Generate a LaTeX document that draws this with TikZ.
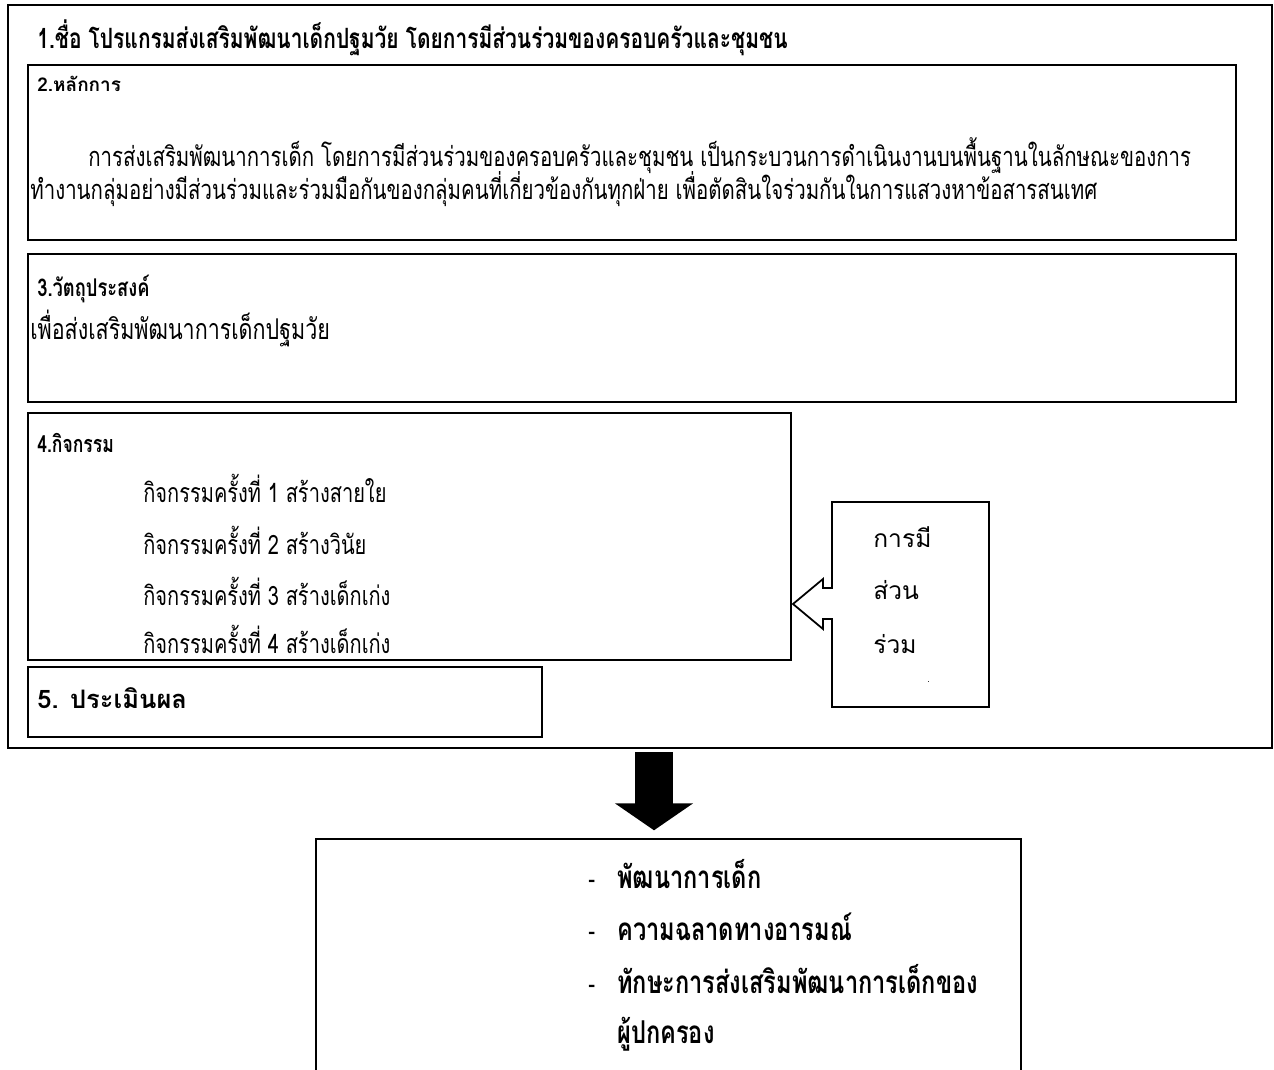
\documentclass[tikz,border=0pt]{standalone}
\usepackage{fontspec}
\setmainfont[Script=Thai]{Loma}
\newfontfamily\narrowthai[Script=Thai, FakeStretch=0.75]{Loma}
\usetikzlibrary{positioning, fit, arrows.meta}

\begin{document}
\begin{tikzpicture}[x=0.02cm, y=-0.02cm,
        box/.style={draw, line width=0.8pt, inner sep=0pt},
        txt/.style={anchor=base west, inner sep=0pt, font=\narrowthai\fontsize{15.5}{18}\selectfont},
        head/.style={txt, font=\narrowthai\fontsize{13.9}{16}\selectfont\bfseries},
        bigarrow/.style={line width=0.76cm, -{Triangle[length=0.54cm 0 0, width=1.54cm 0 0]}}]
    \useasboundingbox (0,0) rectangle (1274,1070);
    \fill[white] (0,0) rectangle (1274,1070);
    % frame with the programme
    \node[box, line width=1.2pt, fit={(8,5) (1272,748)}] (frame) {};
    \node[head, font=\narrowthai\fontsize{15.9}{18}\selectfont\bfseries] (name) at (37,49) {1.ชื่อ โปรแกรมส่งเสริมพัฒนาเด็กปฐมวัย โดยการมีส่วนร่วมของครอบครัวและชุมชน};
    \node[box, fit={(28,65) (1236,240)}] (p2) {};
    \node[txt, font=\fontsize{10.8}{14}\selectfont\bfseries] (p2h) at (37,92) {2.หลักการ};
    \node[txt] (p2a) at (88,167) {การส่งเสริมพัฒนาการเด็ก โดยการมีส่วนร่วมของครอบครัวและชุมชน เป็นกระบวนการดำเนินงานบนพื้นฐานในลักษณะของการ};
    \node[txt] (p2b) at (30,200) {ทำงานกลุ่มอย่างมีส่วนร่วมและร่วมมือกันของกลุ่มคนที่เกี่ยวข้องกันทุกฝ่าย เพื่อตัดสินใจร่วมกันในการแสวงหาข้อสารสนเทศ};
    \node[box, fit={(28,254) (1236,402)}] (p3) {};
    \node[head] (p3h) at (37,297) {3.วัตถุประสงค์};
    \node[txt, font=\narrowthai\fontsize{16.3}{18}\selectfont] (p3a) at (30,340) {เพื่อส่งเสริมพัฒนาการเด็กปฐมวัย};
    \node[box, fit={(28,413) (791,660)}] (p4) {};
    \node[head, font=\narrowthai\fontsize{13.3}{16}\selectfont\bfseries] (p4h) at (37,453) {4.กิจกรรม};
    \begin{scope}
        \clip (28,413) rectangle (791,660);
        \foreach \n/\t/\y in {1/สร้างสายใย/503, 2/สร้างวินัย/555, 3/สร้างเด็กเก่ง/605, 4/สร้างเด็กเก่ง/653}{%
            \node[txt, font=\narrowthai\fontsize{15.2}{18}\selectfont] (act\n) at (143,\y) {กิจกรรมครั้งที่ \n\ \t};
        }
    \end{scope}
    \node[box, fit={(28,667) (542,737)}] (p5) {};
    \node[txt, font=\fontsize{14.5}{16}\selectfont\bfseries] (p5h) at (37,708) {5. ประเมินผล};
    % participation callout
    \draw[line width=1pt] (832,502) -- (832,588) -- (823,588) -- (823,579) -- (793,604)
        -- (823,629) -- (823,619) -- (832,619) -- (832,707) -- (989,707) -- (989,502) -- cycle;
    \node[txt, font=\fontsize{14}{16}\selectfont] (c1) at (873,548) {การมี};
    \node[txt, font=\fontsize{14}{16}\selectfont] (c2) at (873,600) {ส่วน};
    \node[txt, font=\fontsize{14}{16}\selectfont] (c3) at (873,653) {ร่วม};
    \node[txt, font=\tiny] (c4) at (927,682) {.};
    % outcome
    \node[box, fit={(316,839) (1021,1090)}] (result) {};
    \foreach \n/\t/\y in {1/พัฒนาการเด็ก/888, 2/ความฉลาดทางอารมณ์/940, 3/ทักษะการส่งเสริมพัฒนาการเด็กของ/993}{%
        \node[txt] (dash\n) at (588,\y) {-};
        \node[head, font=\narrowthai\fontsize{17.9}{20}\selectfont\bfseries] (res\n) at (617,\y) {\t};
    }
    \node[head, font=\narrowthai\fontsize{17.9}{20}\selectfont\bfseries] (res4) at (617,1043) {ผู้ปกครอง};
    \coordinate (arrtop) at (654,752);
    \draw[bigarrow, shorten >=0.16cm] (arrtop) -- (arrtop |- result.north);
\end{tikzpicture}
\end{document}
